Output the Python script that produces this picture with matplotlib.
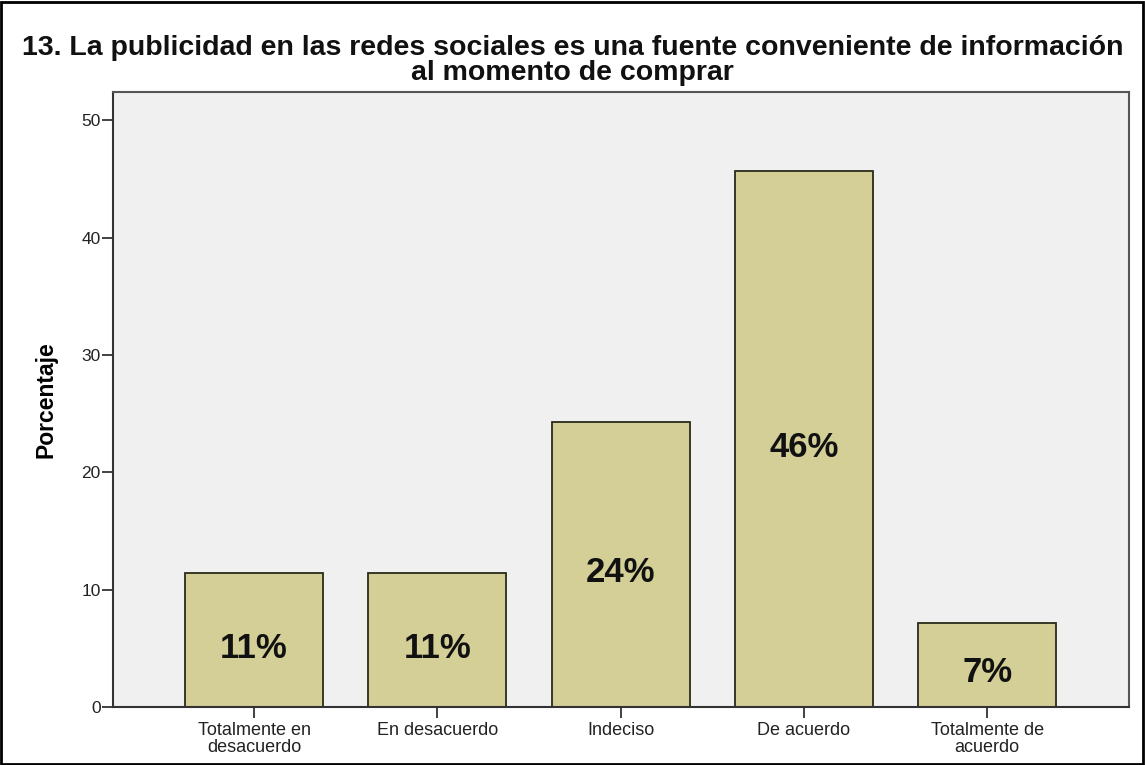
import numpy as np
from matplotlib import pyplot as plt

# respuestas de la pregunta 13 (porcentaje de encuestados)
categorias = ["Totalmente en\ndesacuerdo", "En desacuerdo", "Indeciso", "De acuerdo", "Totalmente de\nacuerdo"]
porcentajes = [11.4, 11.4, 24.3, 45.7, 7.2]
marcas_y = [0, 10, 20, 30, 40, 50]

plt.rcParams['font.family'] = ['Liberation Sans', 'DejaVu Sans']

fig = plt.figure(figsize=(11.45, 7.65), dpi=100)
ax = fig.add_axes([0.0987, 0.0758, 0.8874, 0.804])
ax.set_facecolor("#f0f0f0")

x = np.arange(len(categorias))
barras = ax.bar(x, porcentajes, width=0.753, color="#d3cf96", edgecolor="#2a2a1a", linewidth=1.3, zorder=2)

# etiqueta del porcentaje en medio de cada barra
for b, p in zip(barras, porcentajes):
    ax.text(b.get_x() + b.get_width()/2, p/2 - 0.7, "%.0f%%" % p, ha="center", va="center",
            fontsize=25, fontweight="bold", color="#111111", zorder=3)

ax.set_xlim(-0.77, 4.775)
ax.set_ylim(0, 52.4)
ax.set_xticks(x)
ax.set_xticklabels(categorias, fontsize=13, color="#222222", linespacing=0.95)
ax.set_yticks(marcas_y)
ax.set_yticklabels([str(v) for v in marcas_y], fontsize=12.5, color="#222222")
ax.tick_params(axis="both", direction="out", length=8, width=1.3, color="#333333")
ax.tick_params(axis="y", pad=1)
ax.tick_params(axis="x", pad=3)

ax.set_ylabel("Porcentaje", fontsize=16.5, fontweight="bold")
ax.yaxis.set_label_coords(-0.055, 0.5)

for lado in ["left", "bottom"]:
    ax.spines[lado].set_color("#333333")
    ax.spines[lado].set_linewidth(1.5)
for lado in ["top", "right"]:
    ax.spines[lado].set_color("#555555")
    ax.spines[lado].set_linewidth(1.5)

fig.text(0.5, 0.954, "13. La publicidad en las redes sociales es una fuente conveniente de información\nal momento de comprar",
         ha="center", va="top", fontsize=20.5, fontweight="bold", linespacing=0.92, color="#111111")

# marco exterior de la figura
fig.patches.append(plt.Rectangle((0.001, 0.001), 0.997, 0.997, transform=fig.transFigure,
                                 fill=False, edgecolor="black", linewidth=2))

fig.savefig("out.png", dpi=100)
